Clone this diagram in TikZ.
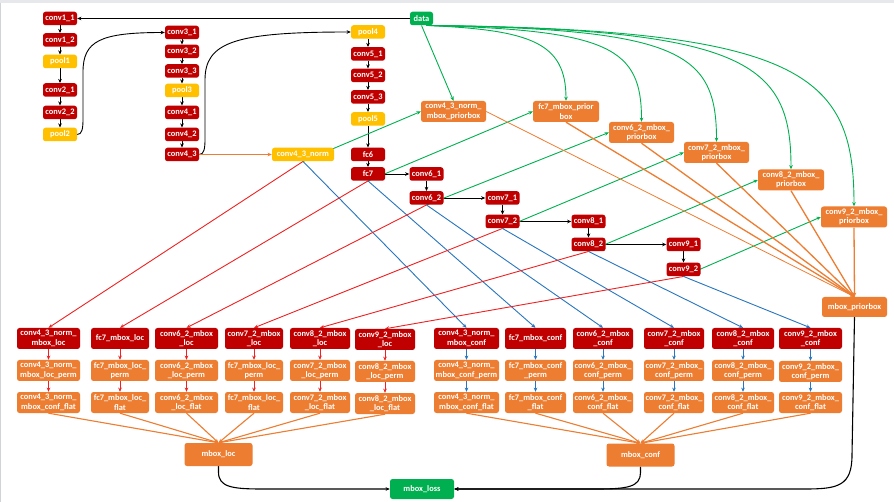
\documentclass[tikz,border=0pt]{standalone}
\usepackage{fontspec}
\setmainfont{Carlito}
\usetikzlibrary{arrows.meta}
\definecolor{convred}{RGB}{192,0,0}
\definecolor{poolyel}{RGB}{255,192,0}
\definecolor{headorg}{RGB}{237,125,49}
\definecolor{datagrn}{RGB}{0,176,80}
\definecolor{locred}{RGB}{238,34,34}
\definecolor{confblue}{RGB}{40,118,190}
\definecolor{framegray}{RGB}{230,232,236}
\pgfdeclarelayer{edges}
\pgfsetlayers{edges,main}
\begin{document}
\begin{tikzpicture}[x=1pt,y=-1pt,
  box/.style={rounded corners=2.5pt, text=white, font=\fontsize{8.4}{9.4}\selectfont\bfseries,
    align=center, inner sep=0pt, minimum height=13.5pt, minimum width=34pt},
  conv/.style={box, fill=convred},
  pool/.style={box, fill=poolyel},
  gbox/.style={box, fill=datagrn},
  head/.style={box, fill=headorg, minimum height=21pt},
  headred/.style={box, fill=convred, minimum height=21pt},
  tip/.style={-{Stealth[length=4.2pt,width=3.6pt]}},
  flow/.style={tip, black, line width=0.9pt},
  gline/.style={tip, datagrn, line width=0.9pt},
  rline/.style={tip, locred, line width=0.9pt},
  bline/.style={tip, confblue, line width=0.9pt},
  oline/.style={tip, headorg, line width=1.1pt},
]
\useasboundingbox (0,0) rectangle (894,502);

% backbone, first column
\node[conv] (c11) at (60,18.5) {conv1\_1};
\node[conv] (c12) at (60,40) {conv1\_2};
\node[pool] (p1)  at (60,61.5) {pool1};
\node[conv] (c21) at (60,90) {conv2\_1};
\node[conv] (c22) at (60,112.5) {conv2\_2};
\node[pool] (p2)  at (60,134.5) {pool2};
% second column
\node[conv] (c31) at (182,32.5) {conv3\_1};
\node[conv] (c32) at (182,51.5) {conv3\_2};
\node[conv] (c33) at (182,71) {conv3\_3};
\node[pool] (p3)  at (182,90.5) {pool3};
\node[conv] (c41) at (182,112.5) {conv4\_1};
\node[conv] (c42) at (182,134.5) {conv4\_2};
\node[conv] (c43) at (182,154.5) {conv4\_3};
\node[pool, minimum width=62pt] (norm) at (303,154.5) {conv4\_3\_norm};
% third column
\node[pool] (p4)  at (368,32) {pool4};
\node[conv] (c51) at (368,54) {conv5\_1};
\node[conv] (c52) at (368,75.5) {conv5\_2};
\node[conv] (c53) at (368,97) {conv5\_3};
\node[pool] (p5)  at (368,119) {pool5};
\node[conv] (fc6) at (368,154.5) {fc6};
\node[conv] (fc7) at (368,174) {fc7};
\node[gbox, minimum width=23pt] (data) at (421.5,18.5) {data};
% extra feature layers
\node[conv] (c61) at (426.5,174) {conv6\_1};
\node[conv] (c62) at (426.5,198) {conv6\_2};
\node[conv] (c71) at (502.5,198) {conv7\_1};
\node[conv] (c72) at (502.5,221.5) {conv7\_2};
\node[conv] (c81) at (588.5,221.5) {conv8\_1};
\node[conv] (c82) at (588.5,244.5) {conv8\_2};
\node[conv] (c91) at (683.5,244.5) {conv9\_1};
\node[conv] (c92) at (683.5,269.5) {conv9\_2};

% prior boxes
\node[head, minimum width=65pt] (pb43) at (453.5,111.5) {conv4\_3\_norm\_\\mbox\_priorbox};
\node[head, minimum width=66pt] (pbfc7) at (566,111.5) {fc7\_mbox\_prior\\box};
\node[head, minimum width=65pt] (pb62) at (641.5,132.5) {conv6\_2\_mbox\_\\priorbox};
\node[head, minimum width=65pt] (pb72) at (716.5,152.5) {conv7\_2\_mbox\_\\priorbox};
\node[head, minimum width=66pt] (pb82) at (791,180) {conv8\_2\_mbox\_\\priorbox};
\node[head, minimum width=66pt] (pb92) at (854,217) {conv9\_2\_mbox\_\\priorbox};
\node[head, minimum width=65pt, minimum height=20pt] (mpb) at (854.5,307) {mbox\_priorbox};

% location heads
\node[headred, minimum width=63pt] (l43) at (48.5,338.5) {conv4\_3\_norm\_\\mbox\_loc};
\node[headred, minimum width=58pt] (lfc7) at (120,338.5) {fc7\_mbox\_loc};
\node[headred, minimum width=63pt] (l62) at (186.5,338.5) {conv6\_2\_mbox\\\_loc};
\node[headred, minimum width=58pt] (l72) at (254,338.5) {conv7\_2\_mbox\\\_loc};
\node[headred, minimum width=60pt] (l82) at (320,338.5) {conv8\_2\_mbox\\\_loc};
\node[headred, minimum width=60pt] (l92) at (385,339.5) {conv9\_2\_mbox\\\_loc};
\node[head, minimum width=63pt] (lp43) at (48.5,370.5) {conv4\_3\_norm\_\\mbox\_loc\_perm};
\node[head, minimum width=58pt] (lpfc7) at (120,370.5) {fc7\_mbox\_loc\_\\perm};
\node[head, minimum width=63pt] (lp62) at (186.5,370.5) {conv6\_2\_mbox\\\_loc\_perm};
\node[head, minimum width=58pt] (lp72) at (254,370.5) {fc7\_mbox\_loc\_\\perm};
\node[head, minimum width=60pt] (lp82) at (320,370.5) {conv7\_2\_mbox\\\_loc\_perm};
\node[head, minimum width=60pt] (lp92) at (385,371.5) {conv8\_2\_mbox\\\_loc\_perm};
\node[head, minimum width=63pt] (lf43) at (48.5,402.5) {conv4\_3\_norm\_\\mbox\_conf\_flat};
\node[head, minimum width=58pt] (lffc7) at (120,402.5) {fc7\_mbox\_loc\_\\flat};
\node[head, minimum width=63pt] (lf62) at (186.5,402.5) {conv6\_2\_mbox\\\_loc\_flat};
\node[head, minimum width=58pt] (lf72) at (254,402.5) {fc7\_mbox\_loc\_\\flat};
\node[head, minimum width=60pt] (lf82) at (320,402.5) {conv7\_2\_mbox\\\_loc\_flat};
\node[head, minimum width=60pt] (lf92) at (385,403.5) {conv8\_2\_mbox\\\_loc\_flat};

% confidence heads
\node[headred, minimum width=65pt] (k43) at (466.5,338.5) {conv4\_3\_norm\_\\mbox\_conf};
\node[headred, minimum width=61pt] (kfc7) at (535.5,338.5) {fc7\_mbox\_conf};
\node[headred, minimum width=60pt] (k62) at (603,338.5) {conv6\_2\_mbox\\\_conf};
\node[headred, minimum width=60pt] (k72) at (674,338.5) {conv7\_2\_mbox\\\_conf};
\node[headred, minimum width=62pt] (k82) at (743,338.5) {conv8\_2\_mbox\\\_conf};
\node[headred, minimum width=63pt] (k92) at (810.5,338.5) {conv9\_2\_mbox\\\_conf};
\node[head, minimum width=65pt] (kp43) at (466.5,370.5) {conv4\_3\_norm\_\\mbox\_conf\_perm};
\node[head, minimum width=61pt] (kpfc7) at (535.5,370.5) {fc7\_mbox\_conf\\\_perm};
\node[head, minimum width=60pt] (kp62) at (603,370.5) {conv6\_2\_mbox\_\\conf\_perm};
\node[head, minimum width=60pt] (kp72) at (674,370.5) {conv7\_2\_mbox\_\\conf\_perm};
\node[head, minimum width=62pt] (kp82) at (743,370.5) {conv8\_2\_mbox\_\\conf\_perm};
\node[head, minimum width=63pt] (kp92) at (810.5,371.5) {conv9\_2\_mbox\_\\conf\_perm};
\node[head, minimum width=65pt] (kf43) at (466.5,402.5) {conv4\_3\_norm\_\\mbox\_conf\_flat};
\node[head, minimum width=61pt] (kffc7) at (535.5,402.5) {fc7\_mbox\_conf\\\_flat};
\node[head, minimum width=60pt] (kf62) at (603,402.5) {conv6\_2\_mbox\_\\conf\_flat};
\node[head, minimum width=60pt] (kf72) at (674,402.5) {conv7\_2\_mbox\_\\conf\_flat};
\node[head, minimum width=62pt] (kf82) at (743,402.5) {conv8\_2\_mbox\_\\conf\_flat};
\node[head, minimum width=63pt] (kf92) at (810.5,402.5) {conv9\_2\_mbox\_\\conf\_flat};

% concatenation and loss
\node[head, minimum width=68pt, minimum height=23pt] (mloc) at (218.5,454.5) {mbox\_loc};
\node[head, minimum width=68pt, minimum height=23pt] (mconf) at (640.5,455) {mbox\_conf};
\node[gbox, minimum width=64pt, minimum height=20pt] (loss) at (422,489) {mbox\_loss};

\begin{pgfonlayer}{edges}
  % page and frame
  \fill[white] (0,0) rectangle (894,502);
  \fill[framegray] (0,0) rectangle (894,3);
  \draw[framegray!80!gray, line width=1pt] (0.8,3) -- (0.8,502);

  % backbone
  \draw[flow] (data.west) -- (c11.east);
  \foreach \a/\b in {c11/c12,c12/p1,p1/c21,c21/c22,c22/p2,
                     c31/c32,c32/c33,c33/p3,p3/c41,c41/c42,c42/c43,
                     p4/c51,c51/c52,c52/c53,c53/p5,p5/fc6,fc6/fc7,
                     fc7/c61,c61/c62,c62/c71,c71/c72,c72/c81,c81/c82,c82/c91,c91/c92}
    \draw[flow] (\a) -- (\b);
  \draw[flow] (p2.east) .. controls (82,134.5) and (83,129) .. (83,119) -- (83,72)
              .. controls (83,41) and (100,32.5) .. (c31.west);
  \draw[flow] (c43.east) .. controls (204,154.5) and (205,149) .. (205,139) -- (205,80)
              .. controls (205,42) and (235,32) .. (p4.west);
  \draw[oline] (c43) -- (norm);

  % data to prior boxes
  \coordinate (dsrc) at ([xshift=5pt]data.south);
  \draw[gline] (data.south) -- (pb43.north);
  \draw[gline] (dsrc) .. controls (530,30) and (566,42) .. (pbfc7.north);
  \draw[gline] (dsrc) .. controls (610,30) and (641.5,48) .. (pb62.north);
  \draw[gline] (dsrc) .. controls (680,29) and (716.5,52) .. (pb72.north);
  \draw[gline] (dsrc) .. controls (745,29) and (791,62) .. (pb82.north);
  \draw[gline] (dsrc) .. controls (805,29) and (854,75) .. (pb92.north);

  % feature maps to prior boxes, locations and confidences
  \foreach \s/\p/\l/\k in {norm/pb43/l43/k43, fc7/pbfc7/lfc7/kfc7, c62/pb62/l62/k62,
                           c72/pb72/l72/k72, c82/pb82/l82/k82, c92/pb92/l92/k92} {
    \draw[gline] (\s.south) -- (\p.west);
    \draw[rline] (\s.south) -- (\l.north);
    \draw[bline] (\s.south) -- (\k.north);
  }

  % prior boxes gathered
  \draw[oline, line width=0.8pt] (pb43.east) -- (mpb.north);
  \foreach \p in {pbfc7,pb62,pb72,pb82,pb92}
    \draw[oline, line width=1.3pt] (\p.south) -- (mpb.north);

  % permute and flatten
  \foreach \a/\b/\c in {l43/lp43/lf43, lfc7/lpfc7/lffc7, l62/lp62/lf62,
                        l72/lp72/lf72, l82/lp82/lf82, l92/lp92/lf92} {
    \draw[rline] (\a) -- (\b);
    \draw[rline] (\b) -- (\c);
    \draw[oline] (\c.south) -- (mloc.north);
  }
  \foreach \a/\b/\c in {k43/kp43/kf43, kfc7/kpfc7/kffc7, k62/kp62/kf62,
                        k72/kp72/kf72, k82/kp82/kf82, k92/kp92/kf92} {
    \draw[bline] (\a) -- (\b);
    \draw[bline] (\b) -- (\c);
    \draw[oline] (\c.south) -- (mconf.north);
  }

  % loss
  \draw[flow, line width=1.1pt] (mloc.south) -- ++(0,6) .. controls (218.5,487) and (232,489) .. (262,489) -- (loss.west);
  \draw[flow, line width=1.1pt] (mconf.south) -- ++(0,6) .. controls (640.5,487) and (627,489) .. (597,489) -- (loss.east);
  \draw[flow, line width=1.1pt] (mpb.south) -- (852,455) .. controls (852,486) and (838,489) .. (805,489) -- (loss.east);
\end{pgfonlayer}
\end{tikzpicture}
\end{document}
